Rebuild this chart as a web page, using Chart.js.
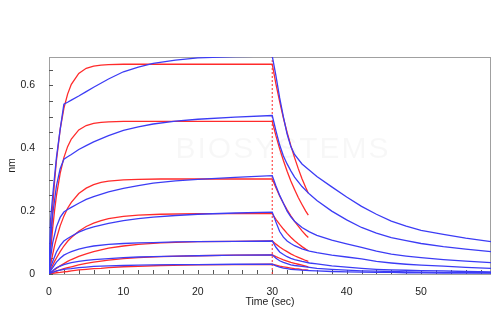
<!DOCTYPE html>
<html>
<head>
<meta charset="utf-8">
<script src="https://cdn.jsdelivr.net/npm/chart.js@4.4.1/dist/chart.umd.min.js"></script>
<style>
  html, body { margin: 0; padding: 0; background: #fff; }
</style>
</head>
<body>
<canvas id="sensorgram" width="500" height="334"></canvas>
<script>
// Time grids (sec)
const rawAssocTime = [0, 0.2, 0.5, 1, 1.5, 2, 2.5, 3, 4, 5, 6, 8, 10, 12, 14, 17, 20, 25, 30];
const rawDissTime = [30, 30.5, 31, 31.5, 32, 32.5, 33, 34, 35, 36, 38, 40, 42, 44, 46, 48, 50, 53, 56, 59.4];
const fitAssocTime = [0, 0.25, 0.5, 0.75, 1, 1.5, 2, 2.5, 3, 4, 5, 6, 7, 8, 10, 12, 15, 20, 25, 30];
const fitDissTime = [30, 30.5, 31, 31.5, 32, 32.5, 33, 33.5, 34, 34.5, 34.85];

// Measured response (nm), highest concentration first
const rawAssoc = [
    [0, 0.17, 0.25, 0.37, 0.46, 0.54, 0.546, 0.553, 0.566, 0.58, 0.594, 0.62, 0.643, 0.658, 0.67, 0.68, 0.687, 0.691, 0.693],
    [0, 0.1, 0.19, 0.28, 0.335, 0.365, 0.373, 0.38, 0.396, 0.408, 0.42, 0.44, 0.457, 0.468, 0.477, 0.486, 0.492, 0.499, 0.504],
    [0, 0.05, 0.1, 0.15, 0.18, 0.197, 0.205, 0.212, 0.225, 0.237, 0.246, 0.261, 0.272, 0.281, 0.289, 0.296, 0.301, 0.307, 0.313],
    [0, 0.02, 0.04, 0.07, 0.09, 0.105, 0.113, 0.12, 0.133, 0.143, 0.15, 0.161, 0.17, 0.176, 0.181, 0.186, 0.19, 0.194, 0.197],
    [0, 0.01, 0.02, 0.038, 0.05, 0.06, 0.066, 0.071, 0.079, 0.085, 0.089, 0.094, 0.097, 0.099, 0.1, 0.102, 0.103, 0.104, 0.105],
    [0, 0.005, 0.01, 0.02, 0.025, 0.03, 0.033, 0.036, 0.04, 0.043, 0.046, 0.049, 0.052, 0.054, 0.055, 0.057, 0.058, 0.06, 0.061],
    [0, 0.003, 0.005, 0.01, 0.012, 0.015, 0.016, 0.017, 0.02, 0.022, 0.024, 0.026, 0.027, 0.028, 0.029, 0.03, 0.03, 0.031, 0.031]
];
const rawDiss = [
    [0.693, 0.63, 0.56, 0.5, 0.445, 0.405, 0.38, 0.35, 0.33, 0.31, 0.277, 0.245, 0.215, 0.19, 0.168, 0.152, 0.139, 0.126, 0.114, 0.103],
    [0.504, 0.455, 0.41, 0.375, 0.35, 0.328, 0.308, 0.278, 0.254, 0.234, 0.2, 0.172, 0.148, 0.13, 0.116, 0.106, 0.097, 0.087, 0.079, 0.071],
    [0.313, 0.28, 0.25, 0.225, 0.2, 0.182, 0.168, 0.148, 0.134, 0.123, 0.108, 0.096, 0.085, 0.073, 0.063, 0.057, 0.052, 0.046, 0.041, 0.036],
    [0.197, 0.165, 0.135, 0.117, 0.105, 0.097, 0.09, 0.08, 0.073, 0.068, 0.06, 0.054, 0.048, 0.04, 0.035, 0.031, 0.028, 0.025, 0.021, 0.018],
    [0.105, 0.085, 0.07, 0.062, 0.055, 0.05, 0.046, 0.04, 0.035, 0.032, 0.026, 0.022, 0.018, 0.015, 0.013, 0.012, 0.011, 0.01, 0.008, 0.007],
    [0.061, 0.05, 0.042, 0.037, 0.033, 0.029, 0.027, 0.024, 0.021, 0.018, 0.015, 0.012, 0.01, 0.009, 0.008, 0.007, 0.006, 0.005, 0.005, 0.004],
    [0.031, 0.026, 0.022, 0.019, 0.017, 0.015, 0.014, 0.012, 0.011, 0.01, 0.008, 0.007, 0.006, 0.005, 0.005, 0.004, 0.004, 0.003, 0.003, 0.003]
];

// 1:1 model fit curves (nm)
const fitAssoc = [
    [0, 0.118, 0.215, 0.295, 0.361, 0.46, 0.527, 0.572, 0.603, 0.638, 0.654, 0.661, 0.664, 0.666, 0.667, 0.667, 0.667, 0.667, 0.667, 0.667],
    [0, 0.08, 0.147, 0.202, 0.249, 0.32, 0.37, 0.405, 0.429, 0.458, 0.472, 0.479, 0.482, 0.484, 0.485, 0.485, 0.485, 0.485, 0.485, 0.485],
    [0, 0.034, 0.063, 0.09, 0.113, 0.153, 0.184, 0.209, 0.228, 0.256, 0.273, 0.284, 0.291, 0.295, 0.299, 0.301, 0.302, 0.302, 0.302, 0.302],
    [0, 0.015, 0.028, 0.04, 0.051, 0.071, 0.089, 0.104, 0.116, 0.136, 0.151, 0.162, 0.17, 0.176, 0.183, 0.187, 0.19, 0.192, 0.192, 0.192],
    [0, 0.005, 0.009, 0.014, 0.018, 0.026, 0.033, 0.04, 0.046, 0.056, 0.064, 0.071, 0.077, 0.082, 0.089, 0.094, 0.099, 0.103, 0.104, 0.105],
    [0, 0.002, 0.005, 0.007, 0.009, 0.013, 0.017, 0.02, 0.023, 0.029, 0.034, 0.038, 0.041, 0.044, 0.049, 0.052, 0.055, 0.058, 0.06, 0.061],
    [0, 0.001, 0.002, 0.003, 0.004, 0.005, 0.007, 0.008, 0.01, 0.013, 0.015, 0.017, 0.018, 0.02, 0.023, 0.024, 0.027, 0.029, 0.03, 0.031]
];
const fitDiss = [
    [0.667, 0.604, 0.548, 0.496, 0.45, 0.408, 0.37, 0.335, 0.303, 0.275, 0.257],
    [0.485, 0.439, 0.398, 0.361, 0.327, 0.296, 0.269, 0.243, 0.221, 0.2, 0.187],
    [0.302, 0.274, 0.248, 0.225, 0.204, 0.185, 0.167, 0.152, 0.137, 0.124, 0.116],
    [0.192, 0.174, 0.158, 0.143, 0.129, 0.117, 0.106, 0.096, 0.087, 0.079, 0.074],
    [0.105, 0.095, 0.086, 0.078, 0.071, 0.064, 0.058, 0.053, 0.048, 0.043, 0.04],
    [0.061, 0.055, 0.05, 0.045, 0.041, 0.037, 0.034, 0.031, 0.028, 0.025, 0.023],
    [0.031, 0.028, 0.025, 0.023, 0.021, 0.019, 0.017, 0.016, 0.014, 0.013, 0.012]
];

// Axis setup
const xTicks = [0, 10, 20, 30, 40, 50];
const yTicks = [0, 0.2, 0.4, 0.6];
const xMax = 59.4;
const yMax = 0.69;
const stepTime = 30;   // association -> dissociation switch

const BLUE = '#3c3cf5';
const RED = '#ff2b2b';
const FONT = { family: '"Liberation Sans", Arial, sans-serif', size: 10.5 };

function toPoints(times, values) {
    return times.map((t, i) => ({ x: t, y: values[i] }));
}

const datasets = [];

// Measured curves (blue)
rawAssoc.forEach((a, i) => {
    datasets.push({
        data: toPoints(rawAssocTime, a).concat(toPoints(rawDissTime, rawDiss[i])),
        borderColor: BLUE,
        borderWidth: 1.3
    });
});

// Fitted curves (red)
fitAssoc.forEach((a, i) => {
    datasets.push({
        data: toPoints(fitAssocTime, a).concat(toPoints(fitDissTime, fitDiss[i])),
        borderColor: RED,
        borderWidth: 1.3
    });
});

// Phase boundary marker
datasets.push({
    data: [{ x: stepTime, y: 0 }, { x: stepTime, y: yMax }],
    borderColor: RED,
    borderWidth: 1,
    borderDash: [2, 2]
});

/**
 * Draws the box frame, inward minor ticks and faint watermark
 */
const framePlugin = {
    id: 'frame',
    beforeDatasetsDraw(chart) {
        const { ctx, chartArea: a, scales } = chart;
        ctx.save();

        // watermark
        ctx.fillStyle = 'rgba(0,0,0,0.03)';
        ctx.font = '30px "Liberation Sans", Arial, sans-serif';
        ctx.letterSpacing = '2px';
        ctx.textAlign = 'center';
        ctx.textBaseline = 'middle';
        ctx.fillText('BIOSYSTEMS', 283, 150);
        ctx.letterSpacing = '0px';

        // frame
        ctx.strokeStyle = '#a0a0a0';
        ctx.lineWidth = 1;
        ctx.strokeRect(a.left + 0.5, a.top + 0.5, a.right - a.left - 1, a.bottom - a.top);

        // minor ticks
        ctx.strokeStyle = '#555';
        ctx.beginPath();
        for (let v = 0; v <= yMax; v += 0.05) {
            const py = Math.round(scales.y.getPixelForValue(v)) + 0.5;
            ctx.moveTo(a.left, py);
            ctx.lineTo(a.left + 4, py);
        }
        for (let t = 0; t <= xMax; t += 2) {
            const px = Math.round(scales.x.getPixelForValue(t)) + 0.5;
            ctx.moveTo(px, a.bottom);
            ctx.lineTo(px, a.bottom - 4);
        }
        ctx.stroke();
        ctx.restore();
    }
};

new Chart(document.getElementById('sensorgram'), {
    type: 'line',
    data: { datasets: datasets },
    options: {
        responsive: false,
        animation: false,
        parsing: false,
        elements: {
            point: { radius: 0 },
            line: { tension: 0, fill: false }
        },
        layout: { padding: { left: 0, right: 9, top: 57, bottom: 0 } },
        scales: {
            x: {
                type: 'linear',
                min: 0,
                max: xMax,
                afterFit: s => { s.height = 60; },
                afterBuildTicks: s => { s.ticks = xTicks.map(v => ({ value: v })); },
                border: { display: false },
                grid: { display: false },
                ticks: { color: '#222', font: FONT, padding: 4, maxRotation: 0 },
                title: {
                    display: true,
                    text: 'Time (sec)',
                    color: '#222',
                    font: FONT,
                    padding: { top: 0, bottom: 26 }
                }
            },
            y: {
                min: 0,
                max: yMax,
                afterFit: s => { s.width = 49; },
                afterBuildTicks: s => { s.ticks = yTicks.map(v => ({ value: v })); },
                border: { display: false },
                grid: { display: false },
                ticks: { color: '#222', font: FONT, padding: 6 },
                title: {
                    display: true,
                    text: 'nm',
                    color: '#222',
                    font: FONT,
                    padding: { top: 6, bottom: 0 }
                }
            }
        },
        plugins: {
            legend: { display: false },
            tooltip: { enabled: false }
        }
    },
    plugins: [framePlugin]
});
</script>
</body>
</html>
